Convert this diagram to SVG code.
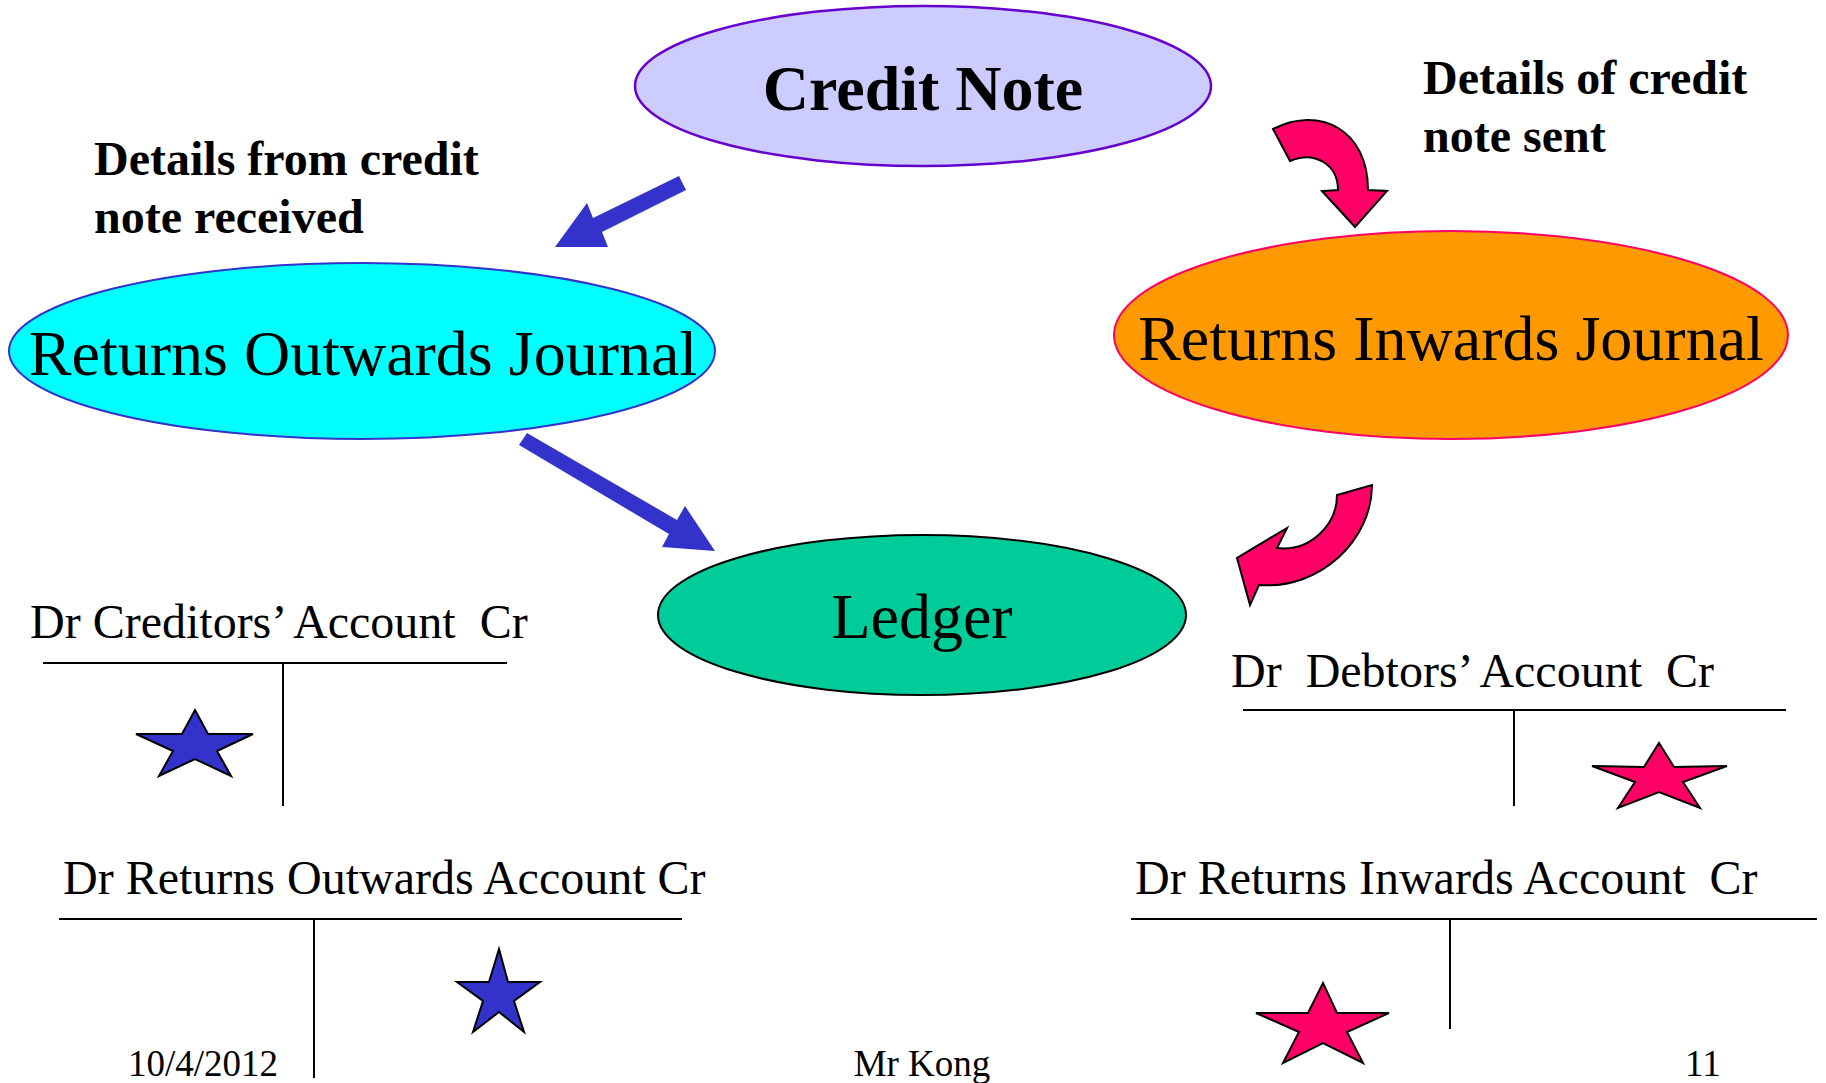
<svg xmlns="http://www.w3.org/2000/svg" width="1826" height="1083" viewBox="0 0 1826 1083">
  <style>
    .serif { font-family: "Liberation Serif", "Times New Roman", serif; fill: #000; }
    .big { font-size: 64px; }
    .note { font-size: 48px; font-weight: bold; }
    .acct { font-size: 48px; }
    .foot { font-size: 37px; }
    .tline { stroke: #000; stroke-width: 2; fill: none; }
    .blue-arrow { fill: #3333CC; stroke: none; }
    .pink-arrow { fill: #FF0066; stroke: #000; stroke-width: 2; stroke-linejoin: miter; }
    .blue-star { fill: #3333CC; stroke: #000; stroke-width: 2; }
    .pink-star { fill: #FF0066; stroke: #000; stroke-width: 2; }
  </style>

  <rect width="1826" height="1083" fill="#fff"/>

  <!-- Nodes -->
  <g id="credit-note">
    <ellipse cx="923" cy="86" rx="288" ry="80" fill="#CCCCFF" stroke="#6600CC" stroke-width="2.5"/>
    <text class="serif big" x="923" y="110" text-anchor="middle" font-weight="bold">Credit Note</text>
  </g>

  <g id="returns-outwards-journal">
    <ellipse cx="362" cy="351" rx="353" ry="88" fill="#00FFFF" stroke="#3333CC" stroke-width="2"/>
    <text class="serif big" x="363" y="375" text-anchor="middle">Returns Outwards Journal</text>
  </g>

  <g id="returns-inwards-journal">
    <ellipse cx="1451" cy="335" rx="337" ry="104" fill="#FF9900" stroke="#FF0066" stroke-width="2"/>
    <text class="serif big" x="1451" y="360" text-anchor="middle">Returns Inwards Journal</text>
  </g>

  <g id="ledger">
    <ellipse cx="922" cy="615" rx="264" ry="80" fill="#00CC99" stroke="#000" stroke-width="2"/>
    <text class="serif big" x="922" y="638" text-anchor="middle">Ledger</text>
  </g>

  <!-- Annotations -->
  <g id="label-received">
    <text class="serif note" x="94" y="175">Details from credit</text>
    <text class="serif note" x="94" y="233">note received</text>
  </g>
  <g id="label-sent">
    <text class="serif note" x="1423" y="94">Details of credit</text>
    <text class="serif note" x="1423" y="152">note sent</text>
  </g>

  <!-- Connectors -->
  <g id="connectors">
    <polygon class="blue-arrow" points="679,176 686,190 602,232 608,247 555,247 587,203 593,218"/>
    <polygon class="blue-arrow" points="527,433 677,520 685,506 715,551 662,547 669,534 519,445"/>
    <path class="pink-arrow" d="M1273,129 C1320,105 1368,130 1368,190 L1387,191 L1355,227 L1322,191 L1338,190 C1338,165 1315,150 1290,161 Z"/>
    <path class="pink-arrow" d="M1372,485 C1372,540 1320,590 1259,585 L1250,605 L1237,558 L1287,528 L1277,548 C1310,552 1337,525 1337,495 Z"/>
  </g>

  <!-- T accounts -->
  <g id="creditors-account">
    <text class="serif acct" x="30" y="638" xml:space="preserve">Dr Creditors’ Account  Cr</text>
    <line class="tline" x1="43" y1="663" x2="507" y2="663"/>
    <line class="tline" x1="283" y1="663" x2="283" y2="806"/>
    <polygon class="blue-star" points="195,710 208,734 253,734 217,751 231,776 195,759 159,776 173,751 136,734 182,734"/>
  </g>

  <g id="returns-outwards-account">
    <text class="serif acct" x="63" y="894">Dr Returns Outwards Account Cr</text>
    <line class="tline" x1="59" y1="919" x2="682" y2="919"/>
    <line class="tline" x1="314" y1="919" x2="314" y2="1078"/>
    <polygon class="blue-star" points="499,949 508,982 540,982 514,1001 524,1032 499,1012 473,1032 483,1001 457,982 489,982"/>
  </g>

  <g id="debtors-account">
    <text class="serif acct" x="1231" y="687" xml:space="preserve">Dr  Debtors’ Account  Cr</text>
    <line class="tline" x1="1243" y1="710" x2="1786" y2="710"/>
    <line class="tline" x1="1514" y1="710" x2="1514" y2="806"/>
    <polygon class="pink-star" points="1659,743 1674,767 1727,766 1683,782 1700,808 1659,792 1618,808 1635,782 1592,766 1644,767"/>
  </g>

  <g id="returns-inwards-account">
    <text class="serif acct" x="1135" y="894" xml:space="preserve">Dr Returns Inwards Account  Cr</text>
    <line class="tline" x1="1131" y1="919" x2="1817" y2="919"/>
    <line class="tline" x1="1450" y1="919" x2="1450" y2="1029"/>
    <polygon class="pink-star" points="1323,983 1337,1013 1389,1013 1347,1032 1363,1063 1323,1043 1283,1063 1299,1032 1256,1013 1308,1013"/>
  </g>

  <!-- Footer -->
  <g id="footer">
    <text class="serif foot" x="128" y="1076">10/4/2012</text>
    <text class="serif foot" x="922" y="1076" text-anchor="middle">Mr Kong</text>
    <text class="serif foot" x="1685" y="1076">11</text>
  </g>
</svg>
